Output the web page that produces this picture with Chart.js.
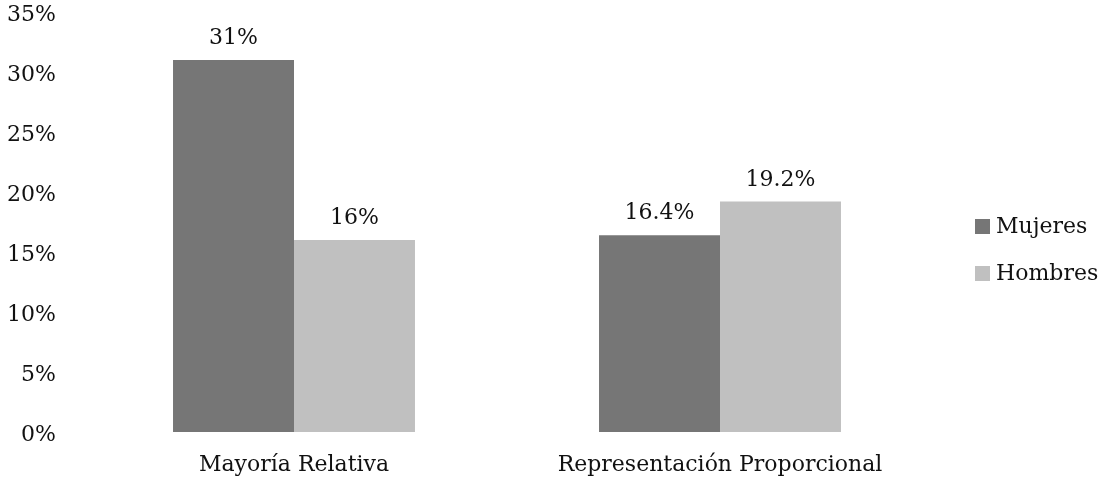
<!DOCTYPE html>
<html>
<head>
<meta charset="utf-8">
<script src="https://cdn.jsdelivr.net/npm/chart.js@4/dist/chart.umd.min.js"></script>
<style>
  html, body { margin: 0; padding: 0; background: #ffffff; }
  #wrap { width: 1099px; height: 487px; }
</style>
</head>
<body>
<div id="wrap"><canvas id="c" width="1099" height="487"></canvas></div>
<script>
const categories = ['Mayoría Relativa', 'Representación Proporcional'];
const seriesNames = ['Mujeres', 'Hombres'];
const mujeres = [31, 16.4];
const hombres = [16, 19.2];
const yTicks = [0, 5, 10, 15, 20, 25, 30, 35];

const FONT = "'DejaVu Serif', serif";
const FONT_SIZE = 22;

function pct(v) {
  return (Number.isInteger(v) ? v.toString() : v.toFixed(1)) + '%';
}

// value labels above each bar
const valueLabels = {
  id: 'valueLabels',
  afterDatasetsDraw(chart) {
    const ctx = chart.ctx;
    ctx.save();
    ctx.font = FONT_SIZE + 'px ' + FONT;
    ctx.fillStyle = '#111111';
    ctx.textAlign = 'center';
    ctx.textBaseline = 'alphabetic';
    chart.data.datasets.forEach((ds, i) => {
      chart.getDatasetMeta(i).data.forEach((bar, j) => {
        ctx.fillText(pct(ds.data[j]), bar.x, bar.y - 16);
      });
    });
    ctx.restore();
  }
};

// legend on the right with square swatches
const sideLegend = {
  id: 'sideLegend',
  afterDraw(chart) {
    const ctx = chart.ctx;
    const x0 = chart.chartArea.right + 42;
    const rows = [226.5, 273.5];
    ctx.save();
    ctx.font = FONT_SIZE + 'px ' + FONT;
    ctx.textBaseline = 'middle';
    ctx.textAlign = 'left';
    chart.data.datasets.forEach((ds, i) => {
      const y = rows[i];
      ctx.fillStyle = ds.backgroundColor;
      ctx.fillRect(x0, y - 7.5, 15, 15);
      ctx.fillStyle = '#111111';
      ctx.fillText(ds.label, x0 + 21, y + 1);
    });
    ctx.restore();
  }
};

new Chart(document.getElementById('c'), {
  type: 'bar',
  data: {
    labels: categories,
    datasets: [
      { label: seriesNames[0], data: mujeres, backgroundColor: '#767676' },
      { label: seriesNames[1], data: hombres, backgroundColor: '#c0c0c0' }
    ]
  },
  options: {
    responsive: false,
    animation: false,
    devicePixelRatio: 1,
    layout: { padding: { left: 0, right: 166, top: 12, bottom: 0 } },
    plugins: {
      legend: { display: false },
      tooltip: { enabled: false }
    },
    datasets: {
      bar: { categoryPercentage: 0.568, barPercentage: 1.0 }
    },
    scales: {
      x: {
        grid: { display: false, drawTicks: false },
        border: { display: false },
        ticks: {
          color: '#111111',
          font: { family: FONT, size: FONT_SIZE },
          padding: 20
        },
        afterFit(scale) {
          scale.height = 55;
          scale.paddingLeft = 0;
          scale.paddingRight = 0;
        }
      },
      y: {
        min: 0,
        max: 35,
        grid: { display: false, drawTicks: false },
        border: { display: false },
        afterBuildTicks(scale) {
          scale.ticks = yTicks.map(v => ({ value: v }));
        },
        ticks: {
          color: '#111111',
          font: { family: FONT, size: FONT_SIZE },
          padding: 25,
          labelOffset: 3,
          callback: (v) => v + '%'
        },
        afterFit(scale) {
          scale.width = 81;
          scale.paddingTop = 0;
          scale.paddingBottom = 0;
        }
      }
    }
  },
  plugins: [valueLabels, sideLegend]
});
</script>
</body>
</html>
